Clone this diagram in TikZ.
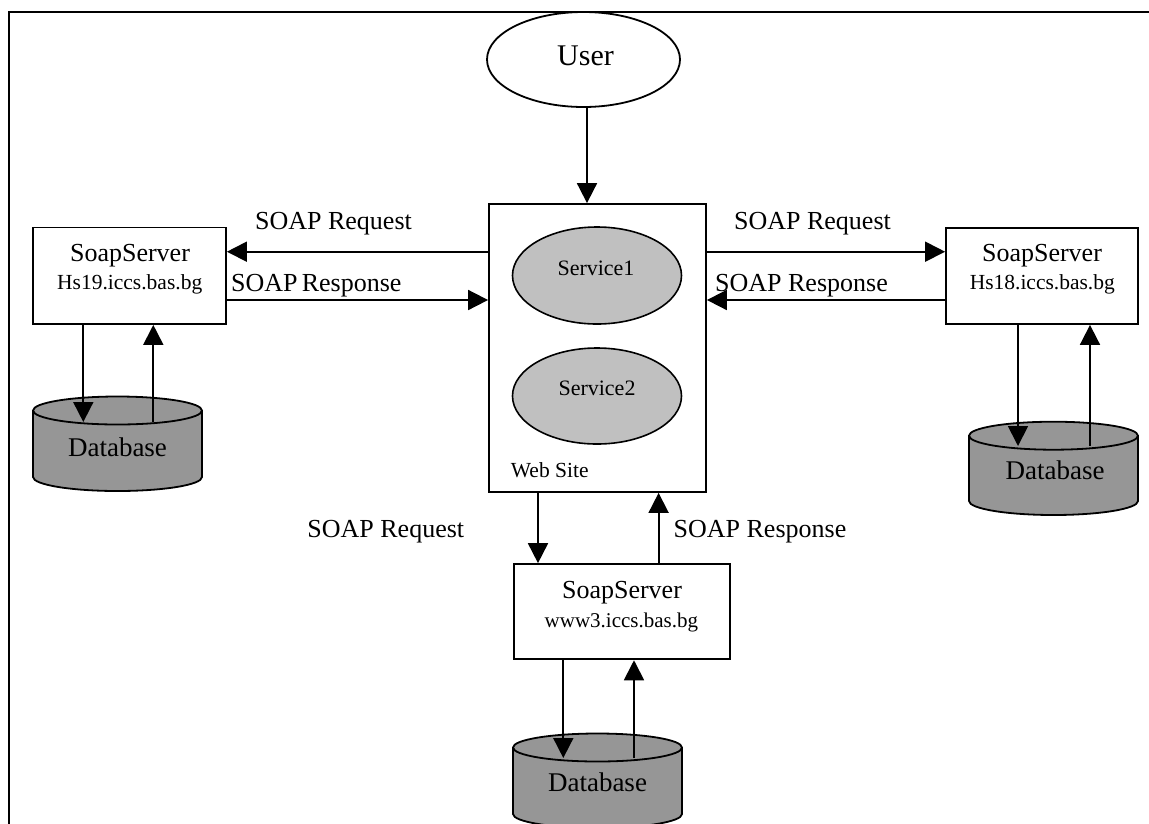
\documentclass[tikz,border=0pt]{standalone}
\usepackage{fontspec}
\setmainfont{Liberation Serif}
\usetikzlibrary{arrows.meta,shapes.geometric,calc}
\definecolor{svcgray}{RGB}{192,192,192}
\definecolor{dbgray}{RGB}{150,150,150}
\newcommand{\fsz}[1]{\fontsize{#1}{#1}\selectfont}
\newcommand{\dbcyl}[3]{%
  \filldraw[dbbody] ({#1-84.5},#2) -- ({#1-84.5},#3)
    arc[start angle=180,end angle=360,x radius=84.5pt,y radius=14pt]
    -- ({#1+84.5},#2)
    arc[start angle=0,end angle=180,x radius=84.5pt,y radius=14pt] -- cycle;
  \draw[line width=1.8pt] ({#1-84.5},#2)
    arc[start angle=180,end angle=360,x radius=84.5pt,y radius=14pt];
}
\begin{document}
\begin{tikzpicture}[x=1pt,y=-1pt,
  box/.style={draw,line width=1.8pt,rectangle,inner sep=0pt,fill=white},
  svc/.style={draw,line width=1.6pt,ellipse,fill=svcgray,inner sep=0pt},
  arr/.style={line width=1.8pt,-{Triangle[length=20pt,width=20pt]}},
  txt/.style={inner sep=0pt,anchor=base},
  dbbody/.style={draw,line width=1.8pt,fill=dbgray},
  frameline/.style={line width=2pt}]
\useasboundingbox (0,0) rectangle (1149,823);
\clip (0,0) rectangle (1149,823);

% frame
\draw[frameline] (9,840) -- (9,12) -- (1170,12);

% user
\node[draw,ellipse,line width=1.8pt,minimum width=193pt,minimum height=95pt,inner sep=0pt] (user) at (583.5,59.5) {};
\node[txt] (usertxt) at (585.5,65) {\fsz{30}User};

% web site
\node[box,minimum width=217pt,minimum height=288pt] (web) at (597.5,348) {};
\node[svc,minimum width=169pt,minimum height=97pt] (s1) at (597,275.5) {};
\node[svc,minimum width=169pt,minimum height=96pt] (s2) at (597,396) {};
\node[txt] (s1txt) at (596,275) {\fsz{22}Service1};
\node[txt] (s2txt) at (597,395) {\fsz{22}Service2};
\node[txt,anchor=base west] (webtxt) at (510.7,477.3) {\fsz{21.5}Web Site};

% servers
\node[box,minimum width=193pt,minimum height=96.5pt] (ls) at (129.5,275.75) {};
\node[box,minimum width=192pt,minimum height=96.3pt] (rs) at (1042,275.85) {};
\node[box,minimum width=216pt,minimum height=95.3pt] (bs) at (622,611.7) {};
\node[txt] (lst1) at (130,261.7) {\fsz{26}SoapServer};
\node[txt] (lst2) at (129.7,289.3) {\fsz{21.5}Hs19.iccs.bas.bg};
\node[txt] (rst1) at (1042,261.7) {\fsz{26}SoapServer};
\node[txt] (rst2) at (1042.3,289.3) {\fsz{21.5}Hs18.iccs.bas.bg};
\node[txt] (bst1) at (622,598.3) {\fsz{26}SoapServer};
\node[txt] (bst2) at (621.4,627.7) {\fsz{21}www3.iccs.bas.bg};

% databases
\dbcyl{117.5}{410.5}{477}
\dbcyl{1053.5}{435.7}{501}
\dbcyl{597.5}{747.5}{814}
\node[txt] (db1) at (117.5,456) {\fsz{27}Database};
\node[txt] (db2) at (1055,479) {\fsz{27}Database};
\node[txt] (db3) at (597.5,791) {\fsz{27}Database};
\coordinate (db1in) at (83.3,422);
\coordinate (db1out) at (153.3,422);
\coordinate (db2in) at (1018,446);
\coordinate (db2out) at (1090,446);
\coordinate (db3in) at (563.3,758);
\coordinate (db3out) at (634,758);

% connectors
\draw[arr] ([xshift=3.5pt]user.south) -- ([xshift=3.5pt]user.south |- web.north);
\draw[arr] (web.west |- 0,251.7) -- (ls.east |- 0,251.7);
\draw[arr] (ls.east |- 0,300) -- (web.west |- 0,300);
\draw[arr] (web.east |- 0,251.7) -- (rs.west |- 0,251.7);
\draw[arr] (rs.west |- 0,300) -- (web.east |- 0,300);
\draw[arr] (web.south -| 538,0) -- (bs.north -| 538,0);
\draw[arr] (bs.north -| 658.6,0) -- (web.south -| 658.6,0);
\draw[arr] (ls.south -| db1in) -- (db1in);
\draw[arr] (db1out) -- (ls.south -| db1out);
\draw[arr] (rs.south -| db2in) -- (db2in);
\draw[arr] (db2out) -- (rs.south -| db2out);
\draw[arr] (bs.south -| db3in) -- (db3in);
\draw[arr] (db3out) -- (bs.south -| db3out);

% labels
\node[txt] (lreq) at (333.5,229.3) {\fsz{26}SOAP Request};
\node[txt] (lres) at (316.3,291) {\fsz{26}SOAP\,Response};
\node[txt] (rreq) at (812.5,229.3) {\fsz{26}SOAP Request};
\node[txt] (rres) at (801.5,291) {\fsz{26}SOAP Response};
\node[txt] (breq) at (385.8,537.3) {\fsz{26}SOAP Request};
\node[txt] (bres) at (760,537) {\fsz{26}SOAP Response};
\end{tikzpicture}
\end{document}
